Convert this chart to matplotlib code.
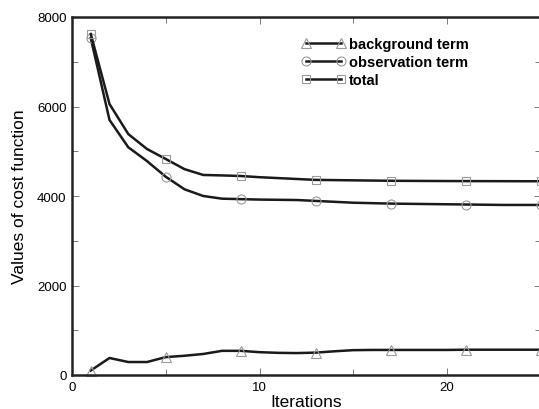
import matplotlib
matplotlib.use("Agg")
import matplotlib.pyplot as plt
from matplotlib.ticker import MultipleLocator

plt.rcParams['font.family'] = ['Liberation Sans', 'DejaVu Sans']

iterations = list(range(1, 26))
background = [100, 380, 290, 290, 400, 430, 470, 540, 540, 510,
              495, 490, 500, 530, 555, 560, 560, 560, 560, 560,
              565, 565, 565, 565, 565]
observation = [7530, 5700, 5090, 4780, 4430, 4150, 4000, 3940, 3930, 3920,
               3915, 3910, 3890, 3870, 3850, 3840, 3830, 3825, 3820, 3815,
               3810, 3805, 3800, 3800, 3800]
total = [7620, 6056, 5385, 5050, 4827, 4600, 4470, 4460, 4447, 4420,
         4400, 4380, 4360, 4355, 4350, 4345, 4340, 4338, 4336, 4334,
         4333, 4332, 4331, 4330, 4330]
labels = ['background term', 'observation term', 'total']
markers = ['^', 'o', 's']
msizes = [7, 6.5, 5.5]

fig = plt.figure(figsize=(5.39, 4.10), dpi=100)
ax = fig.add_axes([72/539, 1-376/410, 468.75/539, 358/410])

for ys, m, ms, lab in zip([background, observation, total], markers, msizes, labels):
    ax.plot(iterations, ys, color='#1a1a1a', lw=1.8, marker=m, markevery=(0, 4),
            markersize=ms, markerfacecolor='none', markeredgecolor='#9a9a9a',
            markeredgewidth=0.8, label=lab, clip_on=False)

ax.set_xlim(0, 25)
ax.set_ylim(0, 8000)
ax.xaxis.set_major_locator(MultipleLocator(10))
ax.xaxis.set_minor_locator(MultipleLocator(5))
ax.yaxis.set_major_locator(MultipleLocator(2000))
ax.yaxis.set_minor_locator(MultipleLocator(1000))
ax.tick_params(which='both', direction='in', top=True, right=True,
               labelsize=9.5, width=0.6, color='#666666', pad=4)
ax.tick_params(which='major', length=5)
ax.tick_params(which='minor', length=4)
for s in ax.spines.values():
    s.set_linewidth(1.8)
    s.set_color('#222222')

ax.set_xlabel('Iterations', fontsize=12.5, labelpad=1)
ax.set_ylabel('Values of cost function', fontsize=12.5, labelpad=7)

leg = ax.legend(loc='upper left', bbox_to_anchor=(0.468, 0.972), frameon=False,
                numpoints=2, handlelength=3.0, handletextpad=0.25,
                labelspacing=0.28, borderaxespad=0.3,
                prop={'weight': 'bold', 'size': 10.5})

fig.savefig('out.png', dpi=100)
